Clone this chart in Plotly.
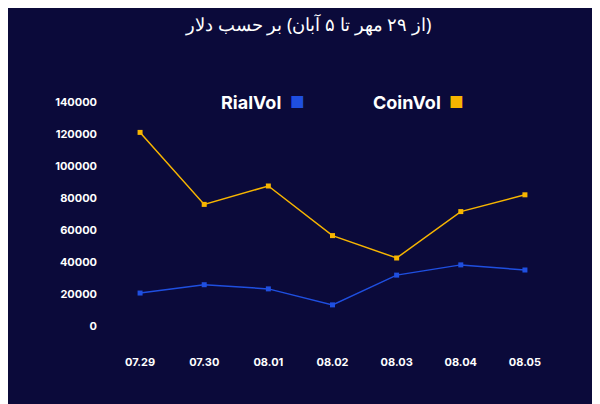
import plotly.graph_objects as go

dates = ["07.29", "07.30", "08.01", "08.02", "08.03", "08.04", "08.05"]
coin_vol = [121000, 76000, 87500, 56500, 42500, 71500, 82000]
rial_vol = [20600, 25800, 23200, 13200, 31800, 38200, 35000]
y_ticks = [0, 20000, 40000, 60000, 80000, 100000, 120000, 140000]
# this page mirrors the bracket glyphs, so they are swapped here
title_tokens = [")", "از", "۲۹", "مهر", "تا", "۵", "آبان", "(", "بر", "حسب", "دلار"]

# the page lays tokens out right to left, so feed them reversed, each fenced by LRM
LRM = "\u200e"
parens = ("(", ")")
rev = list(reversed(title_tokens))
title = LRM + rev[0]
for i in range(1, len(rev)):
    prev, tok = rev[i - 1], rev[i]
    gap = "" if prev in parens or (tok in parens and i == len(rev) - 1) else " "
    title += LRM + gap + LRM + tok
title += LRM

gold = "#f7b500"
blue = "#1f4fe0"

fig = go.Figure()
fig.add_trace(go.Scatter(x=dates, y=coin_vol, mode="lines+markers", name="CoinVol",
                         line=dict(color=gold, width=1.5),
                         marker=dict(symbol="square", size=5, color=gold)))
fig.add_trace(go.Scatter(x=dates, y=rial_vol, mode="lines+markers", name="RialVol",
                         line=dict(color=blue, width=1.5),
                         marker=dict(symbol="square", size=5, color=blue)))

fig.update_layout(
    width=600, height=404,
    paper_bgcolor="#0b0a3a", plot_bgcolor="rgba(0,0,0,0)",
    showlegend=False,
    margin=dict(l=100, r=51, t=94, b=86),
    font=dict(family="Inter", color="white"),
    xaxis=dict(showgrid=False, zeroline=False, showline=False, ticks="",
               range=[-0.5, 6.5], tickfont=dict(size=11, color="white", weight="bold"),
               ticklabelstandoff=28),
    yaxis=dict(showgrid=False, zeroline=False, showline=False, range=[0, 140000],
               tickvals=y_ticks, ticktext=[str(v) for v in y_ticks],
               tickfont=dict(size=11, color="white", weight="bold"), ticklabelstandoff=10),
    annotations=[
        dict(text=title, x=0.445, y=1.35, xref="paper", yref="paper",
             xanchor="center", yanchor="middle", showarrow=False,
             font=dict(size=18, color="white", family="Noto Sans")),
        dict(text="<b>RialVol</b>", x=0.39, y=1.0, xref="paper", yref="paper",
             xanchor="right", yanchor="middle", showarrow=False, font=dict(size=18)),
        dict(text="■", x=0.40, y=1.0, xref="paper", yref="paper",
             xanchor="left", yanchor="middle", showarrow=False, font=dict(size=16, color=blue)),
        dict(text="<b>CoinVol</b>", x=0.745, y=1.0, xref="paper", yref="paper",
             xanchor="right", yanchor="middle", showarrow=False, font=dict(size=18)),
        dict(text="■", x=0.755, y=1.0, xref="paper", yref="paper",
             xanchor="left", yanchor="middle", showarrow=False, font=dict(size=16, color=gold)),
    ],
)

fig.write_html("out.html")
